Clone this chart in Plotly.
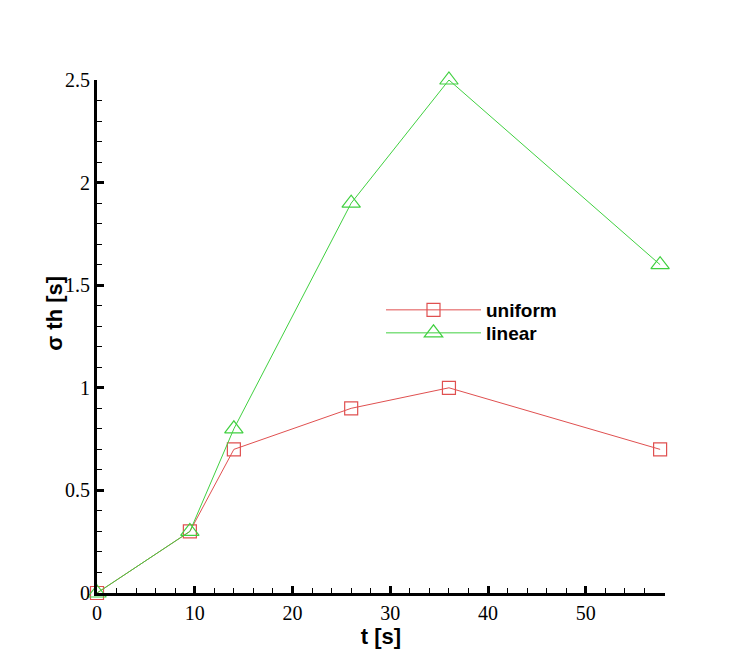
import plotly.graph_objects as go

t_uniform = [0, 9.5, 14, 26, 36, 57.6]
sigma_uniform = [0, 0.3, 0.7, 0.9, 1.0, 0.7]
t_linear = [0, 9.5, 14, 26, 36, 57.6]
sigma_linear = [0, 0.3, 0.8, 1.9, 2.5, 1.6]

red = "#e05050"
green = "#40d040"

fig = go.Figure()
fig.add_trace(go.Scatter(x=t_uniform, y=sigma_uniform, name="uniform", mode="lines+markers",
                         line=dict(color=red, width=1),
                         marker=dict(symbol="square-open", size=13, color=red, line=dict(width=1.2)),
                         cliponaxis=False, legend="legend", showlegend=True))
fig.add_trace(go.Scatter(x=t_linear, y=sigma_linear, name="linear", mode="lines+markers",
                         line=dict(color=green, width=1),
                         marker=dict(symbol="triangle-up-open", size=16, color=green, line=dict(width=1.2)),
                         cliponaxis=False, legend="legend2", showlegend=True))

axis_common = dict(showgrid=False, zeroline=False, showline=True, linecolor="black", linewidth=3,
                   ticks="inside", ticklen=7, tickwidth=3, tickcolor="black",
                   tickfont=dict(family="Liberation Serif", size=20, color="black"))
fig.update_xaxes(range=[0, 58.1], tick0=0, dtick=10,
                 minor=dict(ticks="inside", ticklen=5, tickwidth=1, dtick=2, tickcolor="black"),
                 title=dict(text="t [s]", font=dict(family="Liberation Sans", size=22, color="black", weight="bold"), standoff=0),
                 **axis_common)
fig.update_yaxes(range=[0, 2.5], tick0=0, dtick=0.5,
                 minor=dict(ticks="inside", ticklen=5, tickwidth=1, dtick=0.1, tickcolor="black"),
                 **axis_common)
fig.add_annotation(text="σ th [s]", xref="paper", yref="paper", x=-0.075, y=0.545,
                   xanchor="center", yanchor="middle", textangle=-90, showarrow=False,
                   font=dict(family="Liberation Sans", size=22, color="black", weight="bold"))
legend_common = dict(xanchor="left", yanchor="middle", itemwidth=95, x=0.5,
                     bgcolor="rgba(0,0,0,0)", visible=True,
                     font=dict(family="Liberation Sans", size=19, color="black", weight="bold"))
# plot area: top 80px, height 513px
fig.update_layout(width=750, height=667, margin=dict(l=97, r=85, t=80, b=74),
                  plot_bgcolor="white", paper_bgcolor="white", showlegend=True,
                  legend=dict(y=1 - (310 - 80) / 513, **legend_common),
                  legend2=dict(y=1 - (333 - 80) / 513, **legend_common))
fig.write_html("out.html")
